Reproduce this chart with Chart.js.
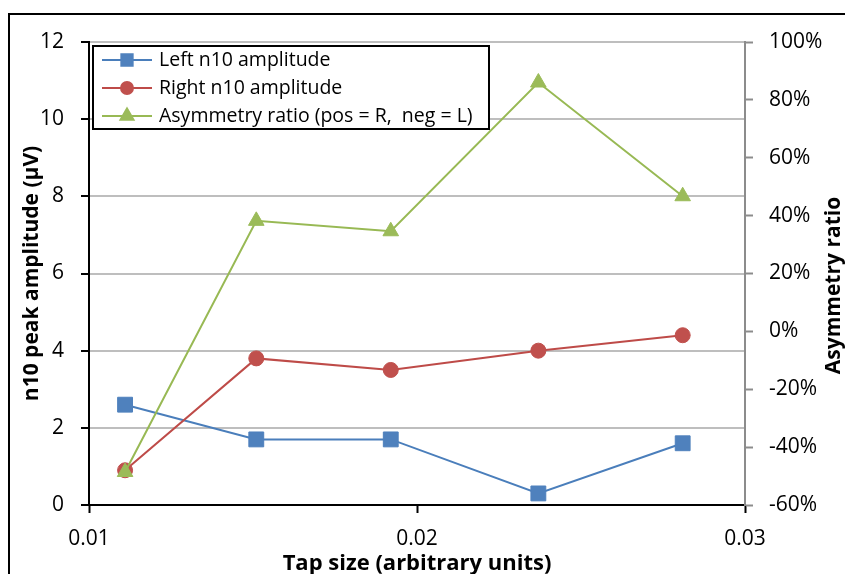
<!DOCTYPE html>
<html>
<head>
<meta charset="utf-8">
<script src="https://cdn.jsdelivr.net/npm/chart.js@4.4.1/dist/chart.umd.min.js"></script>
<style>
  html, body { margin: 0; padding: 0; background: #fff; }
  #wrap { width: 845px; height: 574px; }
</style>
</head>
<body>
<div id="wrap"><canvas id="chart" width="845" height="574"></canvas></div>
<script>
// Messwerte
const tapSize   = [0.0111, 0.0151, 0.0192, 0.0237, 0.0281];
const leftAmp   = [2.6, 1.7, 1.7, 0.3, 1.6];
const rightAmp  = [0.9, 3.8, 3.5, 4.0, 4.4];
const asymRatio = [-48.6, 38.2, 34.6, 86.0, 46.7]; // Prozent

const seriesLabels = ['Left n10 amplitude', 'Right n10 amplitude', 'Asymmetry ratio (pos = R,  neg = L)'];
const tapTicks = [0.01, 0.02, 0.03];
const ampTicks = [0, 2, 4, 6, 8, 10, 12];
const ratioTicks = [-60, -40, -20, 0, 20, 40, 60, 80, 100];

const FONT = '"Open Sans", Lato, sans-serif';

const toPoints = (ys) => ys.map((y, i) => ({ x: tapSize[i], y }));

// Rahmen, rechter Achsentitel und Legende
const decorPlugin = {
  id: 'decor',
  afterDraw(chart) {
    const ctx = chart.ctx;
    const area = chart.chartArea;
    ctx.save();

    // Diagrammrahmen
    ctx.strokeStyle = '#000';
    ctx.lineWidth = 2;
    ctx.strokeRect(9, 14, 900, 700);

    // rechter Achsentitel (von unten nach oben)
    ctx.translate(834, (area.top + area.bottom) / 2 + 12);
    ctx.rotate(-Math.PI / 2);
    ctx.font = 'bold 21px ' + FONT;
    ctx.fillStyle = '#000';
    ctx.textAlign = 'center';
    ctx.textBaseline = 'middle';
    ctx.fillText('Asymmetry ratio', 0, 0);
    ctx.restore();

    // Legende
    ctx.save();
    const box = { x: 93, y: 46, w: 396, h: 83 };
    ctx.fillStyle = '#fff';
    ctx.fillRect(box.x, box.y, box.w, box.h);
    ctx.strokeStyle = '#000';
    ctx.lineWidth = 2;
    ctx.strokeRect(box.x, box.y, box.w, box.h);

    chart.data.datasets.forEach((ds, i) => {
      const rowY = 60 + i * 28;
      ctx.strokeStyle = ds.borderColor;
      ctx.lineWidth = 2;
      ctx.beginPath();
      ctx.moveTo(102, rowY);
      ctx.lineTo(152, rowY);
      ctx.stroke();

      ctx.fillStyle = ds.pointBackgroundColor;
      ctx.strokeStyle = ds.pointBackgroundColor;
      Chart.helpers.drawPoint(ctx, {
        pointStyle: ds.pointStyle,
        radius: ds.legendRadius,
        rotation: 0,
        borderWidth: 1
      }, 127, rowY);

      ctx.fillStyle = '#000';
      ctx.font = '19.5px ' + FONT;
      ctx.textAlign = 'left';
      ctx.textBaseline = 'middle';
      ctx.fillText(ds.label, 159, rowY);
    });
    ctx.restore();
  }
};

new Chart(document.getElementById('chart'), {
  type: 'line',
  data: {
    datasets: [{
      label: seriesLabels[0],
      data: toPoints(leftAmp),
      yAxisID: 'y',
      borderColor: '#4A7EBB',
      pointBackgroundColor: '#4F81BD',
      pointBorderColor: '#4F81BD',
      pointStyle: 'rect',
      pointRadius: 10.5,
      legendRadius: 8,
      order: 3
    }, {
      label: seriesLabels[1],
      data: toPoints(rightAmp),
      yAxisID: 'y',
      borderColor: '#BE4B48',
      pointBackgroundColor: '#C0504D',
      pointBorderColor: '#C0504D',
      pointStyle: 'circle',
      pointRadius: 7.5,
      legendRadius: 6,
      order: 2
    }, {
      label: seriesLabels[2],
      data: toPoints(asymRatio),
      yAxisID: 'y2',
      borderColor: '#98B954',
      pointBackgroundColor: '#9BBB59',
      pointBorderColor: '#9BBB59',
      pointStyle: 'triangle',
      pointRadius: 9,
      legendRadius: 7.5,
      order: 1
    }]
  },
  options: {
    responsive: false,
    animation: false,
    clip: false,
    elements: {
      line: { borderWidth: 2, tension: 0 },
      point: { borderWidth: 1, hoverRadius: 10 }
    },
    layout: { padding: { top: 42, left: 0, right: 0, bottom: 0 } },
    plugins: {
      legend: { display: false },
      tooltip: { enabled: false }
    },
    scales: {
      x: {
        type: 'linear',
        min: 0.01,
        max: 0.03,
        afterFit: (s) => { s.height = 69; },
        afterBuildTicks: (s) => { s.ticks = tapTicks.map(v => ({ value: v })); },
        ticks: {
          color: '#000',
          font: { family: FONT, size: 21 },
          padding: 13,
          callback: (v) => v.toFixed(2)
        },
        grid: { drawOnChartArea: false, tickLength: 8, tickColor: '#000', tickWidth: 2 },
        border: { color: '#000', width: 2 },
        title: {
          display: true,
          text: 'Tap size (arbitrary units)',
          color: '#000',
          font: { family: FONT, size: 22, weight: 'bold' },
          padding: { top: 0, bottom: -3 }
        }
      },
      y: {
        position: 'left',
        min: 0,
        max: 12,
        afterFit: (s) => { s.width = 89; },
        afterBuildTicks: (s) => { s.ticks = ampTicks.map(v => ({ value: v })); },
        ticks: {
          color: '#000',
          font: { family: FONT, size: 21 },
          padding: 17
        },
        grid: { color: '#BEBEBE', lineWidth: 2, tickLength: 8, tickColor: '#000', tickWidth: 2 },
        border: { color: '#000', width: 2 },
        title: {
          display: true,
          text: 'n10 peak amplitude (µV)',
          color: '#000',
          font: { family: FONT, size: 21, weight: 'bold' },
          padding: { top: 19, bottom: 0 }
        }
      },
      y2: {
        position: 'right',
        min: -60,
        max: 100,
        afterFit: (s) => { s.width = 100; },
        afterBuildTicks: (s) => { s.ticks = ratioTicks.map(v => ({ value: v })); },
        ticks: {
          color: '#000',
          font: { family: FONT, size: 21 },
          padding: 16,
          callback: (v) => v + '%'
        },
        grid: { drawOnChartArea: false, tickLength: 8, tickColor: '#8C8C8C', tickWidth: 2 },
        border: { color: '#8C8C8C', width: 2 }
      }
    }
  },
  plugins: [decorPlugin]
});
</script>
</body>
</html>
